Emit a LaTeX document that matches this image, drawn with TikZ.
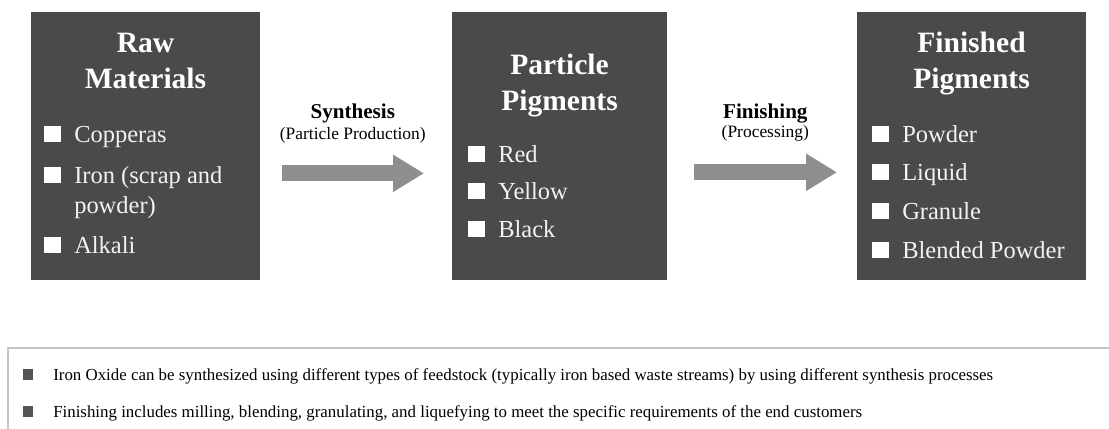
\documentclass[tikz,border=0pt]{standalone}
\usepackage{fontspec}
\setmainfont{Liberation Serif}
\usetikzlibrary{positioning, calc, arrows.meta}

\definecolor{panelgray}{HTML}{4A4A4A}
\definecolor{arrowgray}{HTML}{8E8E8E}
\definecolor{rulegray}{HTML}{C4C4C4}
\definecolor{notegray}{HTML}{555555}

\tikzset{
  panel/.style={fill=panelgray, draw=none, anchor=north west, minimum height=6.7cm, inner sep=0pt},
  paneltitle/.style={text=white, font=\fontsize{21}{25}\selectfont\bfseries, align=center, anchor=base, inner sep=0pt},
  panelitem/.style={text=white!95!black, font=\fontsize{17.4}{21}\selectfont, align=left, anchor=base west, inner sep=0pt},
  steplabel/.style={font=\fontsize{15}{15}\selectfont\bfseries, align=center, anchor=base, inner sep=0pt},
  stepnote/.style={font=\fontsize{12.4}{12}\selectfont, anchor=base, inner sep=0pt},
  flowarrow/.style={draw=arrowgray, line width=11.4pt, -{Triangle[length=22pt, width=25pt]}, arrowgray},
  note/.style={font=\fontsize{12}{13}\selectfont, anchor=base west, inner sep=0pt}
}

\begin{document}
\begin{tikzpicture}[x=0.025cm, y=-0.025cm]
  \clip (0,0) rectangle (1109,428);

  % three panels
  \node[panel, minimum width=5.725cm] (raw) at (31,12) {};
  \node[panel, minimum width=5.375cm] (part) at (452,12) {};
  \node[panel, minimum width=5.725cm] (fin) at (857,12) {};

  % titles (base = baseline of the last line)
  \node[paneltitle] (rawtitle) at (145.5,88) {Raw\\Materials};
  \node[paneltitle] (parttitle) at (559.5,110) {Particle\\Pigments};
  \node[paneltitle] (fintitle) at (971.5,88) {Finished\\Pigments};

  \foreach \sy/\ty/\txt [count=\i] in {142/142/Copperas, 183/213/{Iron (scrap and\\powder)}, 253/253/Alkali} {
    \fill[white] (44,\sy-16) rectangle (61,\sy);
    \node[panelitem] (raw-\i) at (74,\ty) {\txt};
  }
  \foreach \yy/\txt [count=\i] in {162/Red, 199/Yellow, 237/Black} {
    \fill[white] (468,\yy-16) rectangle (485,\yy);
    \node[panelitem] (part-\i) at (498,\yy) {\txt};
  }
  \foreach \yy/\txt [count=\i] in {142/Powder, 180/Liquid, 219/Granule, 258/Blended Powder} {
    \fill[white] (872,\yy-16) rectangle (889,\yy);
    \node[panelitem] (fin-\i) at (902,\yy) {\txt};
  }

  % process arrows
  \coordinate (synA) at ($(raw.east)+(21,27)$);
  \coordinate (synB) at ($(part.west)+(-28,27)$);
  \coordinate (finA) at ($(part.east)+(26,26)$);
  \coordinate (finB) at ($(fin.west)+(-20,26)$);
  \draw[flowarrow] (synA) -- (synB);
  \draw[flowarrow] (finA) -- (finB);

  \node[steplabel] (synlabel) at ($(synA)!0.5!(synB)+(0,-55)$) {Synthesis};
  \node[stepnote] (synnote) at ($(synA)!0.5!(synB)+(0,-34)$) {(Particle Production)};
  \node[steplabel] (finlabel) at ($(finA)!0.5!(finB)+(0,-54)$) {Finishing};
  \node[stepnote] (finnote) at ($(finA)!0.5!(finB)+(0,-35)$) {(Processing)};

  % notes
  \draw[rulegray, line width=1.2pt] (8,348) rectangle (1130,460);
  \fill[notegray] (23,369) rectangle (33,380);
  \fill[notegray] (23,406) rectangle (33,417);
  \node[note] (note-1) at (53,380) {Iron Oxide can be synthesized using different types of feedstock (typically iron based waste streams) by using different synthesis processes};
  \node[note] (note-2) at (53,417) {Finishing includes milling, blending, granulating, and liquefying to meet the specific requirements of the end customers};
\end{tikzpicture}
\end{document}
